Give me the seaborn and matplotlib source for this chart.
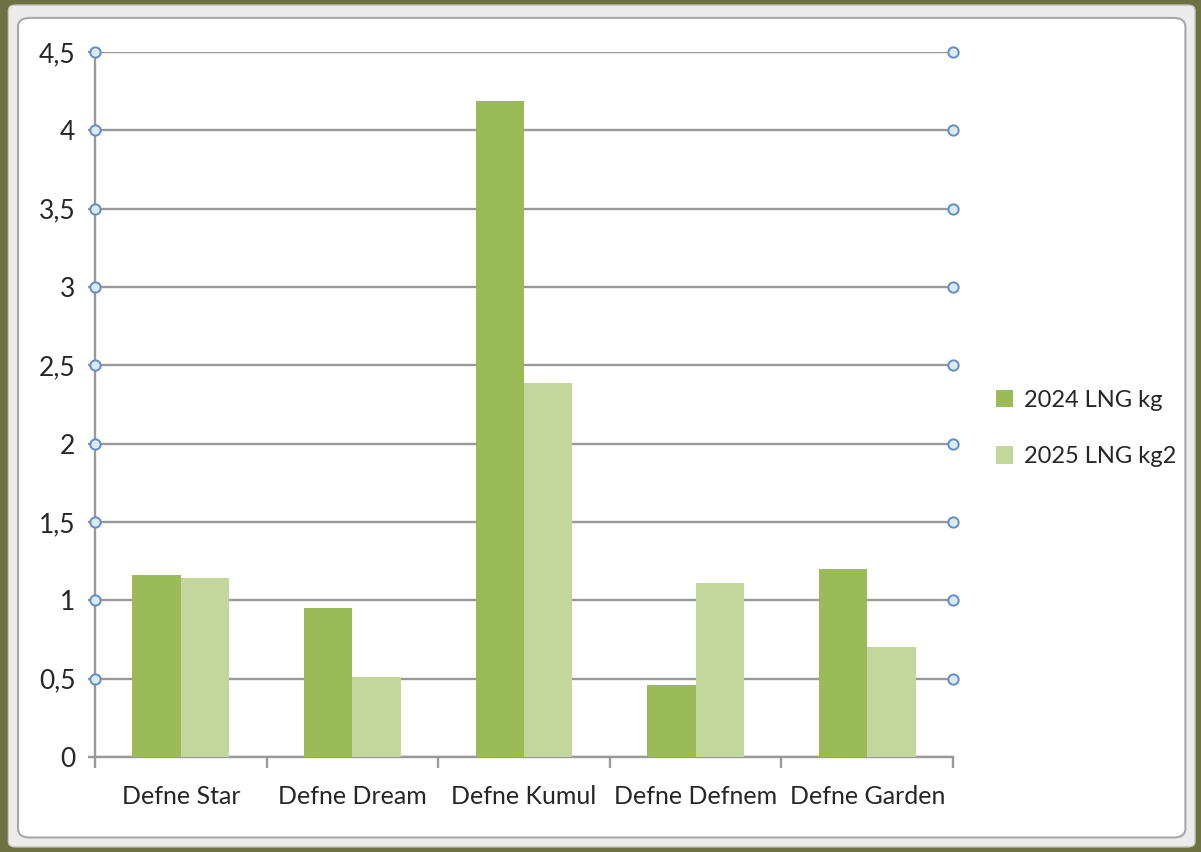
import matplotlib
matplotlib.use("Agg")
import matplotlib.pyplot as plt
from matplotlib.patches import FancyBboxPatch
import seaborn as sns
import pandas as pd

# chart values
ships = ["Defne Star", "Defne Dream", "Defne Kumul", "Defne Defnem", "Defne Garden"]
lng_2024 = [1.16, 0.95, 4.19, 0.46, 1.20]
lng_2025 = [1.14, 0.51, 2.39, 1.11, 0.70]
series_names = ["2024 LNG kg", "2025 LNG kg2"]
y_ticks = [0, 0.5, 1, 1.5, 2, 2.5, 3, 3.5, 4, 4.5]
y_labels = ["0", "0,5", "1", "1,5", "2", "2,5", "3", "3,5", "4", "4,5"]

df = pd.DataFrame({
    "ship": ships * 2,
    "value": lng_2024 + lng_2025,
    "series": [series_names[0]] * len(ships) + [series_names[1]] * len(ships),
})

sns.set_style("white")
plt.rcParams["font.family"] = ["Lato", "DejaVu Sans"]

fig = plt.figure(figsize=(12.01, 8.52), dpi=100)
fig.patch.set_facecolor("#6c7242")

# window frame around the chart
frame = FancyBboxPatch((0.007, 0.006), 0.988, 0.988, boxstyle="round,pad=0,rounding_size=0.006",
                       transform=fig.transFigure, facecolor="#ececec", edgecolor="#c8c8c8",
                       lw=1, zorder=-2)
fig.patches.append(frame)
inner = FancyBboxPatch((0.015, 0.017), 0.972, 0.962, boxstyle="round,pad=0,rounding_size=0.01",
                       transform=fig.transFigure, facecolor="white", edgecolor="#a8a8a8",
                       lw=1.5, zorder=-1)
fig.patches.append(inner)

ax = fig.add_axes([0.0791, 0.1115, 0.7144, 0.8275])
ax.set_facecolor("none")

palette = {series_names[0]: "#9bbb59", series_names[1]: "#c3d69b"}
sns.barplot(data=df, x="ship", y="value", hue="series", palette=palette,
            width=0.565, gap=0, saturation=1, linewidth=0, ax=ax, zorder=3, legend=True)

ax.set_xlim(-0.5, len(ships) - 0.5)
ax.set_ylim(0, 4.5)
ax.set_yticks(y_ticks)
ax.set_yticklabels(y_labels)
ax.set_xlabel("")
ax.set_ylabel("")

ax.yaxis.grid(True, color="#999999", lw=1.7, zorder=1)
ax.xaxis.grid(False)
for side in ["top", "right"]:
    ax.spines[side].set_visible(False)
for side in ["left", "bottom"]:
    ax.spines[side].set_color("#999999")
    ax.spines[side].set_linewidth(1.7)

ax.tick_params(axis="y", direction="out", length=5, width=1.7, color="#999999",
               labelsize=19, pad=9, left=True)
ax.tick_params(axis="x", which="major", length=0, labelsize=18, pad=20)
ax.set_xticks([i - 0.5 for i in range(len(ships) + 1)], minor=True)
ax.tick_params(axis="x", which="minor", direction="out", length=8, width=1.7,
               color="#999999", bottom=True)

# gridline selection handles at both ends
handle_y = y_ticks[1:]
for xpos in [0, 1]:
    ax.scatter([xpos] * len(handle_y), handle_y, transform=ax.get_yaxis_transform(),
               s=55, facecolor="#dce9f6", edgecolor="#5f8fc4", lw=1.4, zorder=5, clip_on=False)

leg = ax.legend(loc="center left", bbox_to_anchor=(1.025, 0.466), frameon=False,
                fontsize=17, handlelength=0.75, handleheight=0.75, handletextpad=0.45,
                labelspacing=1.5)

fig.savefig("out.png", dpi=100, facecolor=fig.get_facecolor())
